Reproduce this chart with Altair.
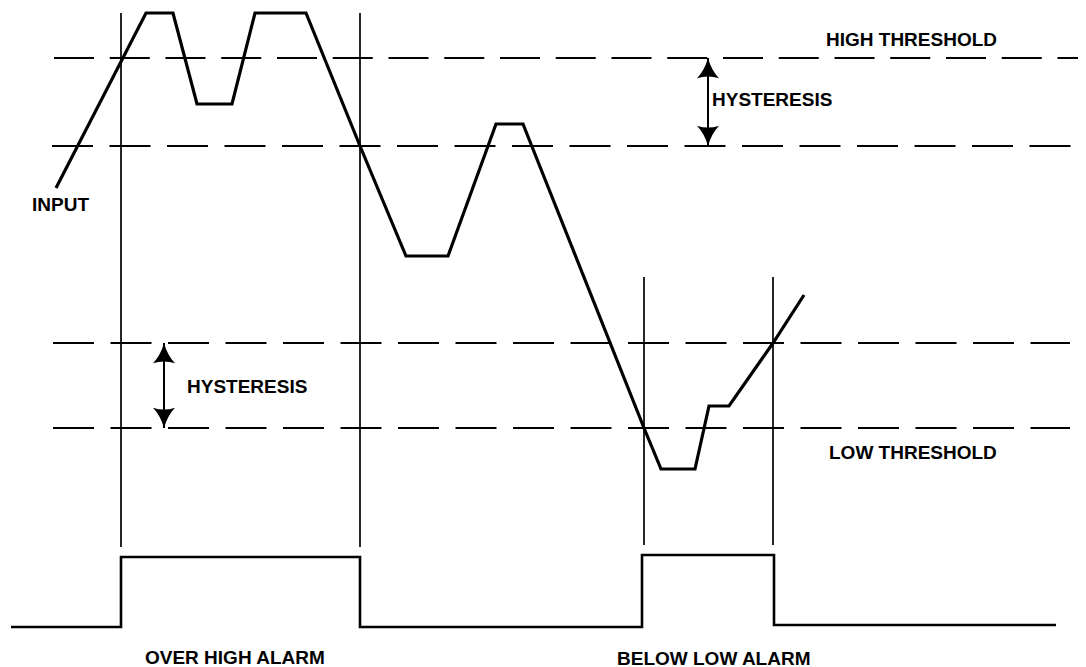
import altair as alt
import pandas as pd

# ---- data (diagram, in its own pixel frame) ----
input_x = [56, 146, 173, 197, 232, 255, 306, 360, 406, 448, 496, 523, 644, 661, 695, 709, 729, 773, 804]
input_y = [188, 13, 13, 104, 104, 13, 13, 146, 256, 256, 124, 124, 428, 469, 469, 406, 406, 343, 295]

# threshold levels: high, high - hysteresis, low + hysteresis, low
thr_name = ["high", "high_hys", "low_hys", "low"]
thr_level = [58, 146, 343, 428]
thr_x0 = [54, 52, 53, 53]
thr_x1 = [1086, 1072, 1070, 1070]

# alarm switching instants (vertical markers)
sw_x = [121, 360, 644, 773]
sw_top = [13, 13, 277, 277]
sw_bot = [547, 547, 545, 545]

# alarm output waveform
alarm_x = [11, 121, 121, 360, 360, 642, 642, 774, 774, 1056]
alarm_y = [627, 627, 557, 557, 627, 627, 555, 555, 625, 625]

# hysteresis arrows
arrow_x = [708, 164]
arrow_top = [58, 343]
arrow_bot = [146, 428]

# labels
label_text = ["HIGH THRESHOLD", "HYSTERESIS", "INPUT", "HYSTERESIS", "LOW THRESHOLD",
              "OVER HIGH ALARM", "BELOW LOW ALARM"]
label_x = [826, 712, 32, 187, 829, 145, 617]
label_y = [46, 106, 211, 393, 459, 664, 665]

# ---- tables ----
df_input = pd.DataFrame({"x": input_x, "y": input_y, "o": range(len(input_x))})
df_alarm = pd.DataFrame({"x": alarm_x, "y": alarm_y, "o": range(len(alarm_x))})
df_thr = pd.DataFrame({"name": thr_name, "x": thr_x0, "x2": thr_x1, "y": thr_level})
df_sw = pd.DataFrame({"x": sw_x, "y": sw_top, "y2": sw_bot})
df_arrow = pd.DataFrame({"x": arrow_x, "y": arrow_top, "y2": arrow_bot})
df_lab = pd.DataFrame({"t": label_text, "x": label_x, "y": label_y})

xs = alt.Scale(domain=[8, 1078], nice=False, zero=False)
ys = alt.Scale(domain=[8, 680], nice=False, zero=False, reverse=True)


def X(f="x"):
    return alt.X(f"{f}:Q", scale=xs, axis=None)


def Y(f="y"):
    return alt.Y(f"{f}:Q", scale=ys, axis=None)


dash_top = alt.Chart(df_thr[df_thr.name == "high"]).mark_rule(
    color="black", strokeWidth=2, strokeDash=[40, 15.75]
).encode(x=X(), x2="x2:Q", y=Y())

dash_rest = alt.Chart(df_thr[df_thr.name != "high"]).mark_rule(
    color="black", strokeWidth=2, strokeDash=[41, 16.5]
).encode(x=X(), x2="x2:Q", y=Y())

verticals = alt.Chart(df_sw).mark_rule(color="black", strokeWidth=1.7).encode(
    x=X(), y=Y(), y2="y2:Q"
)

input_line = alt.Chart(df_input).mark_line(
    color="black", strokeWidth=3.2, strokeJoin="miter"
).encode(x=X(), y=Y(), order="o:Q")

alarm_line = alt.Chart(df_alarm).mark_line(
    color="black", strokeWidth=2.6, strokeJoin="miter"
).encode(x=X(), y=Y(), order="o:Q")

shafts = alt.Chart(df_arrow).mark_rule(color="black", strokeWidth=2).encode(
    x=X(), y=Y(), y2="y2:Q"
)

up_head = "M0,0 Q0.3,1.1 1,1.85 Q0,1.5 -1,1.85 Q-0.3,1.1 0,0 Z"
down_head = "M0,0 Q0.3,-1.1 1,-1.85 Q0,-1.5 -1,-1.85 Q-0.3,-1.1 0,0 Z"

heads_up = alt.Chart(df_arrow).mark_point(
    shape=up_head, filled=True, size=484, color="black", opacity=1
).encode(x=X(), y=Y())

heads_down = alt.Chart(df_arrow).mark_point(
    shape=down_head, filled=True, size=484, color="black", opacity=1
).encode(x=X(), y=Y("y2"))

labels = alt.Chart(df_lab).mark_text(
    align="left", baseline="alphabetic", font="Liberation Sans",
    fontWeight="bold", fontSize=19, color="black"
).encode(x=X(), y=Y(), text="t:N")

chart = alt.layer(
    dash_top, dash_rest, verticals, input_line, alarm_line, shafts,
    heads_up, heads_down, labels
).properties(
    width=1070, height=672, padding=0, background="white",
    autosize=alt.AutoSizeParams(type="none")
).configure_view(stroke=None)

chart.save("out.html", embed_options={"renderer": "svg", "actions": False})
